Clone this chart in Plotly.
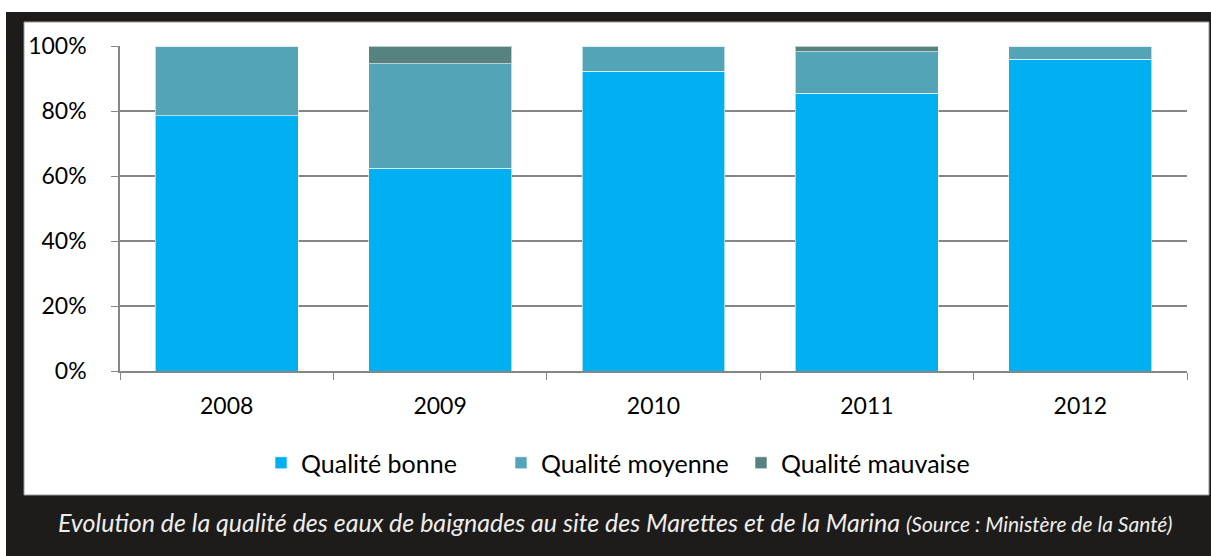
import plotly.graph_objects as go

years = ["2008", "2009", "2010", "2011", "2012"]
bonne = [78.6, 62.4, 92.3, 85.4, 95.9]
moyenne = [21.4, 32.1, 7.7, 12.8, 4.1]
mauvaise = [0.0, 5.5, 0.0, 1.8, 0.0]

series = [
    ("Qualité bonne", bonne, "#00B0F0"),
    ("Qualité moyenne", moyenne, "#52A4B6"),
    ("Qualité mauvaise", mauvaise, "#568280"),
]

W, H = 1211, 556
L, R, T, B = 120, 1187, 46, 371

def px(x):
    return (x - L) / (R - L)

def py(y):
    return (B - y) / (B - T)

fig = go.Figure()
for name, vals, col in series:
    fig.add_trace(go.Bar(
        x=years, y=[v / 100 for v in vals], name=name,
        marker=dict(color=col, line=dict(color="rgba(255,255,255,0.6)", width=1)),
    ))

FONT = "Lato, 'Open Sans', sans-serif"

fig.update_layout(
    width=W, height=H,
    barmode="stack", bargap=0.33,
    margin=dict(l=L, r=W - R, t=T, b=H - B),
    paper_bgcolor="white", plot_bgcolor="rgba(0,0,0,0)",
    font=dict(family=FONT, size=23, color="black"),
    showlegend=True,
    legend=dict(orientation="h", x=px(621), xanchor="center", y=py(463), yanchor="middle",
                font=dict(size=25), entrywidth=195, entrywidthmode="pixels",
                traceorder="normal", bgcolor="rgba(0,0,0,0)"),
    xaxis=dict(type="category", showgrid=False, showline=True, linecolor="#868686", linewidth=1.5,
               ticks="outside", tickson="boundaries", ticklen=7, tickcolor="#868686",
               ticklabelstandoff=14, tickfont=dict(size=23)),
    yaxis=dict(range=[0, 1], tickvals=[0, 0.2, 0.4, 0.6, 0.8, 1.0], tickformat=".0%",
               showgrid=True, gridcolor="#868686", gridwidth=1.5, showline=True,
               linecolor="#868686", linewidth=1.5, ticks="outside", ticklen=7,
               tickcolor="#868686", ticklabelstandoff=20, zeroline=False, tickfont=dict(size=23)),
    shapes=[
        dict(type="rect", xref="paper", yref="paper", layer="below",
             x0=px(6), x1=px(1211), y0=py(556), y1=py(12), fillcolor="#1E1C1A", line=dict(width=0)),
        dict(type="rect", xref="paper", yref="paper", layer="below",
             x0=px(24), x1=px(1209), y0=py(495), y1=py(22), fillcolor="white",
             line=dict(color="#9A9A9A", width=1)),
    ],
    annotations=[
        dict(xref="paper", yref="paper", x=px(615), y=py(522), xanchor="center", yanchor="middle",
             showarrow=False, font=dict(family=FONT, size=25, color="#EDEDED"),
             text="<i>Evolution de la qualité des eaux de baignades au site des Marettes et de la Marina "
                  "<span style='font-size:21px'>(Source : Ministère de la Santé)</span></i>"),
    ],
)

fig.write_html("out.html", config={"displayModeBar": False},
               post_script="document.body.style.margin='0';document.body.style.padding='0';")
